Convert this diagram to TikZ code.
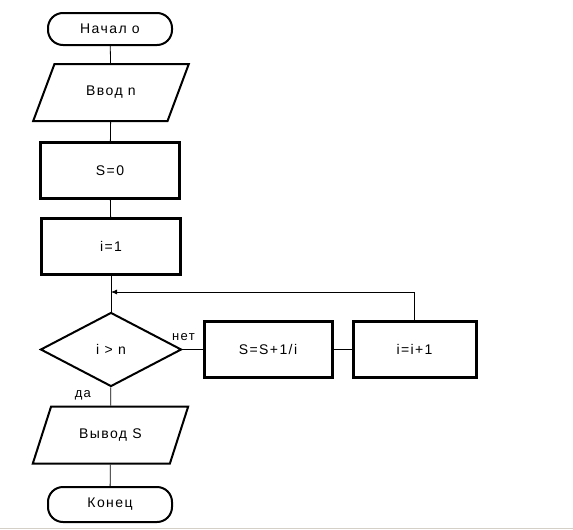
\documentclass[tikz,border=0pt]{standalone}
\usepackage{fontspec}
\setmainfont{Liberation Sans}[LetterSpace=10]
\usetikzlibrary{shapes.geometric,arrows.meta}
\definecolor{framegray}{RGB}{212,208,200}

\begin{document}
\begin{tikzpicture}[x=1pt,y=-1pt,
    term/.style={draw,line width=2pt,rounded corners=15pt,minimum width=124pt,minimum height=32pt},
    io/.style={draw,line width=2pt,trapezium,trapezium left angle=61,trapezium right angle=119,
      trapezium stretches=true,minimum width=156pt,minimum height=57pt},
    proc/.style={draw,line width=3pt,minimum width=139pt,minimum height=56pt},
    cond/.style={draw,line width=2pt,diamond,minimum width=141pt,minimum height=74pt,inner sep=0pt}]

      \useasboundingbox (0,0) rectangle (573,530);
      \draw[framegray,line width=1.5pt] (0,528.5) -- (573,528.5);

      \begin{scope}[every node/.style={font=\fontsize{14}{16}\selectfont}]
        \node[term] (1) at (110,29)    {Начал о};
        \node[io]   (2) at (111,92.5)  {Ввод n};
        \node[proc] (3) at (110,170.5) {S=0};
        \node[proc] (4) at (111,246.5) {i=1};
        \node[cond] (5) at (111,349.5) {i > n};
        \node[proc,minimum width=128pt] (6) at (268,349.5) {S=S+1/i};
        \node[proc,minimum width=123pt] (7) at (414.5,349.5) {i=i+1};
        \node[io]   (8) at (110.5,435) {Вывод S};
        \node[term,minimum height=35pt] (9) at (110,504.5) {Конец};
      \end{scope}

      \coordinate (j) at (111,292);

      \begin{scope}[every node/.style={font=\fontsize{13}{15}\selectfont}]
        \begin{scope}[every edge/.style={draw,line width=0.8pt}]
          \path (1) edge (2);
          \path (2) edge (3);
          \path (3) edge (4);
          \path (4) edge (5);
          \path (5) edge node[pos=0.45,left=16pt] {да} (8);
          \path (5.east) edge node[pos=0.05,above=5pt] {нет} (6);
          \path (6) edge (7);
          \path (8) edge (9);
        \end{scope}
        \draw[line width=0.8pt,-{Latex[length=6pt,width=5pt]}] (7.north) |- (j);
      \end{scope}

    \end{tikzpicture}
\end{document}
